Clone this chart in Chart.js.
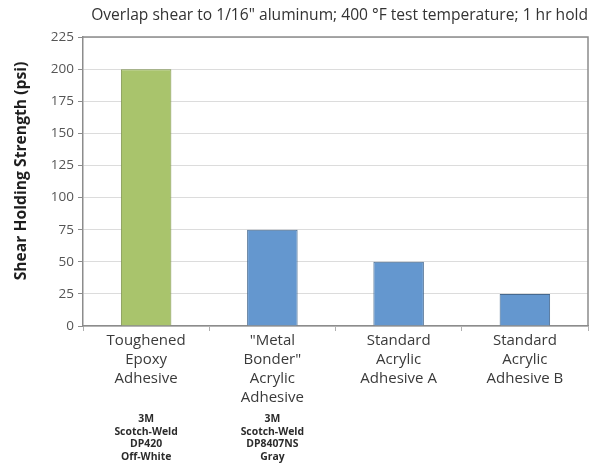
<!DOCTYPE html>
<html>
<head>
<meta charset="utf-8">
<script src="https://cdn.jsdelivr.net/npm/chart.js@4/dist/chart.umd.min.js"></script>
<style>
  html, body { margin: 0; padding: 0; background: #fff; }
  canvas { display: block; }
</style>
</head>
<body>
<canvas id="chart" width="591" height="465"></canvas>
<script>
// Adhesive categories (multi-line axis labels)
const categories = [
  ["Toughened", "Epoxy", "Adhesive"],
  ["\"Metal", "Bonder\"", "Acrylic", "Adhesive"],
  ["Standard", "Acrylic", "Adhesive A"],
  ["Standard", "Acrylic", "Adhesive B"]
];
// Shear holding strength, psi
const strength = [200, 75, 50, 25];
// Product notes printed under each category
const productNotes = [
  ["3M", "Scotch-Weld", "DP420", "Off-White"],
  ["3M", "Scotch-Weld", "DP8407NS", "Gray"],
  [],
  []
];
const barColors = ["#a9c46c", "#6497cf", "#6497cf", "#6497cf"];
const barBorders = ["#7f944f", "#46698f", "#46698f", "#46698f"];

const FONT = "'Open Sans', 'DejaVu Sans', sans-serif";
const Y_TITLE = 'Shear Holding Strength (psi)';

// Frame on the top and right side of the plot area, y-axis title and product notes
const extras = {
  id: 'extras',
  afterDraw(chart) {
    const { ctx, chartArea: a } = chart;
    ctx.save();
    ctx.strokeStyle = '#8c8c8c';
    ctx.lineWidth = 1.5;
    ctx.beginPath();
    ctx.moveTo(a.left, a.top);
    ctx.lineTo(a.right, a.top);
    ctx.lineTo(a.right, a.bottom);
    ctx.stroke();

    // rotated axis title
    ctx.save();
    ctx.translate(22, 171);
    ctx.rotate(-Math.PI / 2);
    ctx.fillStyle = '#1e1e1e';
    ctx.font = "bold 15.7px " + FONT;
    ctx.textAlign = 'center';
    ctx.textBaseline = 'middle';
    ctx.fillText(Y_TITLE, 0, 0);
    ctx.restore();

    const x = chart.scales.x;
    ctx.fillStyle = '#2b2b2b';
    ctx.font = "bold 10.4px " + FONT;
    ctx.textAlign = 'center';
    ctx.textBaseline = 'middle';
    productNotes.forEach((lines, i) => {
      const px = x.getPixelForValue(i);
      lines.forEach((t, j) => ctx.fillText(t, px, 419 + j * 12.7));
    });
    ctx.restore();
  }
};

new Chart(document.getElementById('chart'), {
  type: 'bar',
  data: {
    labels: categories,
    datasets: [{
      data: strength,
      backgroundColor: barColors,
      borderColor: barBorders,
      borderWidth: 1,
      categoryPercentage: 1,
      barPercentage: 0.4
    }]
  },
  options: {
    responsive: false,
    animation: false,
    layout: { padding: { left: 0, right: 3, top: 0, bottom: 0 } },
    plugins: {
      legend: { display: false },
      tooltip: { enabled: false },
      title: {
        display: true,
        text: 'Overlap shear to 1/16" aluminum; 400 \u00b0F test temperature; 1 hr hold',
        align: 'end',
        color: '#333',
        font: { family: FONT, size: 15.6, weight: 'normal', lineHeight: 1.2 },
        padding: { top: 6, bottom: 12.3 }
      }
    },
    scales: {
      x: {
        afterFit(scale) { scale.height = 139; },
        grid: {
          offset: true,
          drawOnChartArea: false,
          drawTicks: true,
          tickLength: 5,
          color: '#b0b0b0'
        },
        border: { color: '#8c8c8c', width: 1.5 },
        ticks: {
          color: '#3a3a3a',
          padding: 0,
          maxRotation: 0,
          autoSkip: false,
          font: { family: FONT, size: 15, lineHeight: 1.27 }
        }
      },
      y: {
        min: 0,
        max: 225,
        afterFit(scale) { scale.width = 83; },
        grid: {
          color: '#dcdcdc',
          tickLength: 5,
          tickColor: '#8c8c8c'
        },
        border: { color: '#8c8c8c', width: 1.5 },
        ticks: {
          stepSize: 25,
          color: '#555',
          padding: 4,
          font: { family: FONT, size: 13.5 }
        },
        title: { display: false, text: Y_TITLE }
      }
    }
  },
  plugins: [extras]
});
</script>
</body>
</html>
